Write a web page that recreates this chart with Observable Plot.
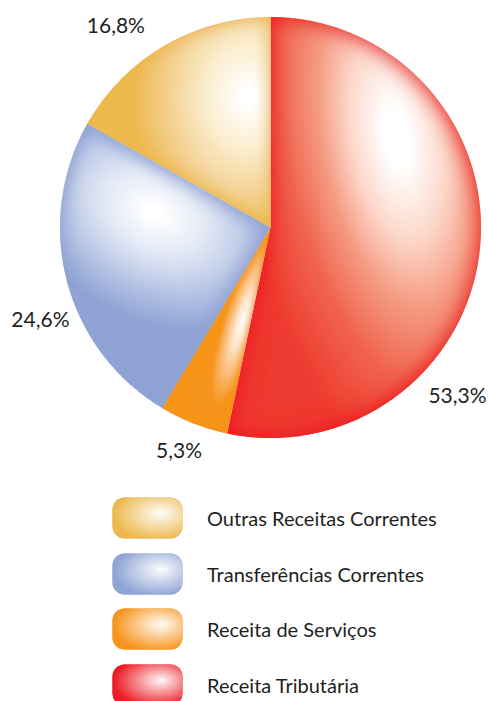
<!DOCTYPE html>
<html>
<head>
<meta charset="utf-8">
<script src="https://cdn.jsdelivr.net/npm/d3@7"></script>
<script src="https://cdn.jsdelivr.net/npm/@observablehq/plot@0.6"></script>
<style>
  html, body { margin: 0; padding: 0; background: #fff; overflow: hidden; }
  body { width: 488px; height: 701px; font-family: Lato, "Open Sans", sans-serif; color: #231f20; }
  #legend { padding-top: 27px; padding-left: 112px; }
  .row { display: flex; align-items: center; height: 42px; margin-bottom: 13.5px; }
  .row svg { display: block; }
  .row span { margin-left: 24px; font-size: 20px; color: #231f20; }
</style>
</head>
<body>
<div id="chart"></div>
<div id="legend"></div>
<script>
// ---- data ----
const categories = ["Receita Tributária", "Receita de Serviços", "Transferências Correntes", "Outras Receitas Correntes"];
const shares = [53.3, 5.3, 24.6, 16.8];
const shareLabels = ["53,3%", "5,3%", "24,6%", "16,8%"];
const legendOrder = ["Outras Receitas Correntes", "Transferências Correntes", "Receita de Serviços", "Receita Tributária"];

// ---- styles ----
const colors = ["#ed1c24", "#f7941d", "#8fa3d4", "#edb94f"];
// gradient stops per slice (offset, colour)
const stops = [
  [[0.08, "#ffffff"], [0.28, "#fcd8ca"], [0.47, "#f59a82"], [0.7, "#f0644d"], [1, "#ee3b30"]],
  [[0.0, "#ffffff"], [0.3, "#fde6cc"], [0.7, "#f9b567"], [1, "#f7941d"]],
  [[0.05, "#ffffff"], [0.35, "#e3e9f5"], [0.7, "#b4c2e4"], [1, "#8fa3d4"]],
  [[0.05, "#ffffff"], [0.35, "#fbefd2"], [0.7, "#f3d08e"], [1, "#edb94f"]]
];
// highlight ellipse per slice: centre (pie units), radii (pie units), rotation (deg)
const hl = [
  {cx: 0.6, cy: 0.42, rx: 0.76, ry: 1.72, rot: -10},
  {cx: -0.13, cy: -0.44, rx: 0.09, ry: 0.42, rot: 17.5},
  {cx: -0.55, cy: 0.07, rx: 0.72, ry: 0.5, rot: 29},
  {cx: -0.105, cy: 0.62, rx: 0.55, ry: 0.68, rot: 0}
];
// rim darkening per slice: erode, blur
const rim = [{e: 5, b: 9}, {e: 1, b: 3}, {e: 4, b: 8}, {e: 3, b: 7}];
// label placement: angle (deg clockwise from north) and radius (in pie radii)
const labelPlace = [{a: 132.1, r: 1.197}, {a: 202.2, r: 1.15}, {a: 248.1, r: 1.178}, {a: 322.5, r: 1.207}];

const W = 488, H = 470, R = 210.5, CX = 270, CY = 227;

// slice outlines computed from shares
const total = d3.sum(shares);
let cum = 0;
const rows = [];
categories.forEach((c, i) => {
  const a0 = cum / total * 360, a1 = (cum + shares[i]) / total * 360;
  cum += shares[i];
  rows.push({cat: c, x: 0, y: 0});
  const n = Math.max(2, Math.ceil((a1 - a0) / 0.5));
  for (let k = 0; k <= n; k++) {
    const t = (a0 + (a1 - a0) * k / n) * Math.PI / 180;
    rows.push({cat: c, x: Math.sin(t), y: Math.cos(t)});
  }
});

const labelRows = categories.map((c, i) => {
  const t = labelPlace[i].a * Math.PI / 180;
  return {label: shareLabels[i], x: labelPlace[i].r * Math.sin(t), y: labelPlace[i].r * Math.cos(t)};
});

const svg = Plot.plot({
  width: W,
  height: H,
  margin: 0,
  x: {domain: [-CX / R, (W - CX) / R], axis: null},
  y: {domain: [-(H - CY) / R, CY / R], axis: null},
  marks: [
    ...categories.map((c, i) => Plot.line(rows.filter(d => d.cat === c), {
      x: "x", y: "y", fill: `url(#sg${i})`, stroke: "none", curve: "linear-closed"
    })),
    Plot.text(labelRows, {x: "x", y: "y", text: "label", fontSize: 21, fill: "#231f20", fontFamily: "Lato, 'Open Sans', sans-serif"})
  ]
});

const sx = svg.scale("x"), sy = svg.scale("y");
const unit = sx.apply(1) - sx.apply(0);

const s = d3.select(svg);
const defs = s.insert("defs", ":first-child");
categories.forEach((c, i) => {
  const h = hl[i];
  const g = defs.append("radialGradient").attr("id", "sg" + i)
    .attr("gradientUnits", "userSpaceOnUse")
    .attr("cx", 0).attr("cy", 0).attr("r", 1)
    .attr("gradientTransform", `translate(${sx.apply(h.cx)},${sy.apply(h.cy)}) rotate(${h.rot}) scale(${h.rx * unit},${h.ry * unit})`);
  stops[i].forEach(([o, col]) => g.append("stop").attr("offset", o).attr("stop-color", col));

  const f = defs.append("filter").attr("id", "rim" + i)
    .attr("x", "-10%").attr("y", "-10%").attr("width", "120%").attr("height", "120%");
  f.append("feMorphology").attr("in", "SourceAlpha").attr("operator", "erode").attr("radius", rim[i].e).attr("result", "er");
  f.append("feGaussianBlur").attr("in", "er").attr("stdDeviation", rim[i].b).attr("result", "bl");
  f.append("feFlood").attr("flood-color", colors[i]).attr("result", "fl");
  f.append("feComposite").attr("in", "fl").attr("in2", "bl").attr("operator", "out").attr("result", "edge");
  f.append("feComposite").attr("in", "edge").attr("in2", "SourceAlpha").attr("operator", "in").attr("result", "edgec");
  const m = f.append("feMerge");
  m.append("feMergeNode").attr("in", "SourceGraphic");
  m.append("feMergeNode").attr("in", "edgec");
});
s.selectAll('g[aria-label="line"]').each(function(d, i) {
  d3.select(this).selectAll("path").attr("filter", `url(#rim${i})`);
});

document.getElementById("chart").appendChild(svg);

// legend
const legend = d3.select("#legend");
legendOrder.forEach((name, j) => {
  const i = categories.indexOf(name);
  const row = legend.append("div").attr("class", "row");
  const sw = row.append("svg").attr("width", 71).attr("height", 42);
  const gid = "lg" + j;
  const rg = sw.append("defs").append("radialGradient").attr("id", gid)
    .attr("cx", 0.64).attr("cy", 0.42).attr("r", 0.62).attr("fx", 0.7).attr("fy", 0.38);
  rg.append("stop").attr("offset", 0).attr("stop-color", "#ffffff").attr("stop-opacity", 0.97);
  rg.append("stop").attr("offset", 1).attr("stop-color", colors[i]);
  sw.append("rect").attr("x", 0.5).attr("y", 0.5).attr("width", 70).attr("height", 41)
    .attr("rx", 12).attr("ry", 12).attr("fill", colors[i]);
  sw.append("rect").attr("x", 0.5).attr("y", 0.5).attr("width", 70).attr("height", 41)
    .attr("rx", 12).attr("ry", 12).attr("fill", `url(#${gid})`);
  row.append("span").text(name);
});
</script>
</body>
</html>
